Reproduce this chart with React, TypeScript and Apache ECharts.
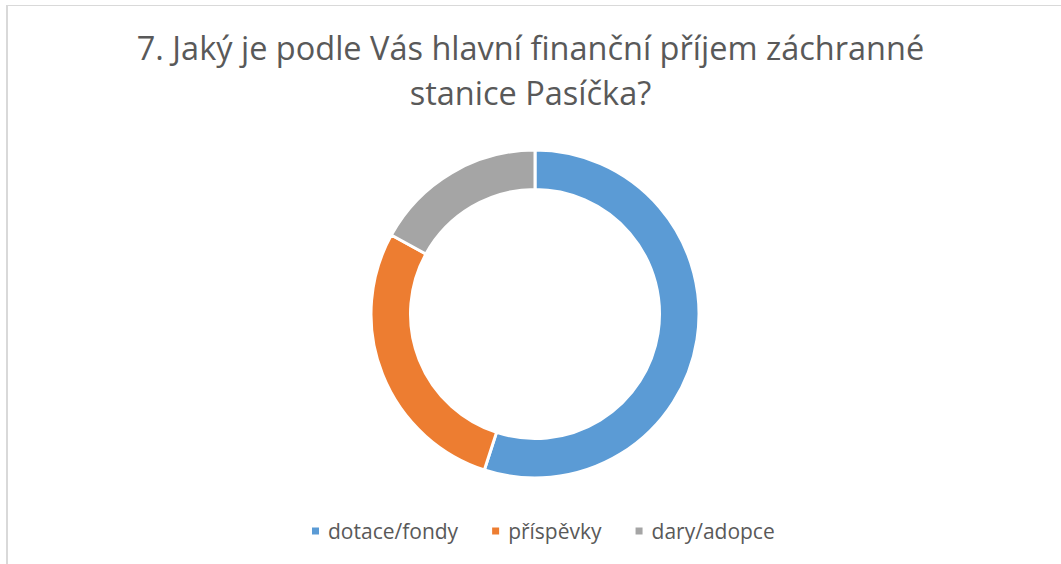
import React, { useEffect, useRef } from "react";
import * as echarts from "echarts";

const titleText = "7. Jaký je podle Vás hlavní finanční příjem záchranné\nstanice Pasíčka?";
const categories = ["dotace/fondy", "příspěvky", "dary/adopce"];
const values = [55, 28, 17];
const colors = ["#5B9BD5", "#ED7D31", "#A5A5A5"];

const FONT = "'Open Sans', sans-serif";

export default function App() {
  const ref = useRef<HTMLDivElement>(null);
  useEffect(() => {
    document.body.style.margin = "0";
    if (!ref.current) return;
    const chart = echarts.init(ref.current, undefined, { renderer: "svg" });
    chart.setOption({
      animation: false,
      backgroundColor: "#ffffff",
      title: {
        text: titleText,
        left: "center",
        top: 25,
        padding: 0,
        textStyle: {
          fontFamily: FONT,
          fontSize: 32.5,
          lineHeight: 45,
          fontWeight: "normal",
          color: "#595959",
        },
      },
      legend: {
        left: 310,
        top: 520,
        padding: 0,
        icon: "rect",
        itemWidth: 9,
        itemHeight: 9,
        itemGap: 32,
        textStyle: {
          fontFamily: FONT,
          fontSize: 21,
          lineHeight: 22,
          color: "#595959",
          padding: [0, 0, 0, 3],
        },
        data: categories,
      },
      graphic: [
        { type: "line", shape: { x1: 6, y1: 5.5, x2: 1061, y2: 5.5 }, style: { stroke: "#d9d9d9", lineWidth: 1 }, silent: true },
        { type: "line", shape: { x1: 7, y1: 5, x2: 7, y2: 564 }, style: { stroke: "#d9d9d9", lineWidth: 2 }, silent: true },
      ],
      series: [
        {
          type: "pie",
          center: [535, 314],
          radius: [124.5, 164],
          startAngle: 90,
          clockwise: true,
          label: { show: false },
          labelLine: { show: false },
          emphasis: { disabled: true },
          itemStyle: { borderColor: "#ffffff", borderWidth: 3 },
          data: categories.map((name, i) => ({
            name,
            value: values[i],
            itemStyle: { color: colors[i] },
          })),
        },
      ],
    });
    return () => chart.dispose();
  }, []);
  return <div ref={ref} style={{ position: "fixed", left: 0, top: 0, width: 1061, height: 564 }} />;
}
